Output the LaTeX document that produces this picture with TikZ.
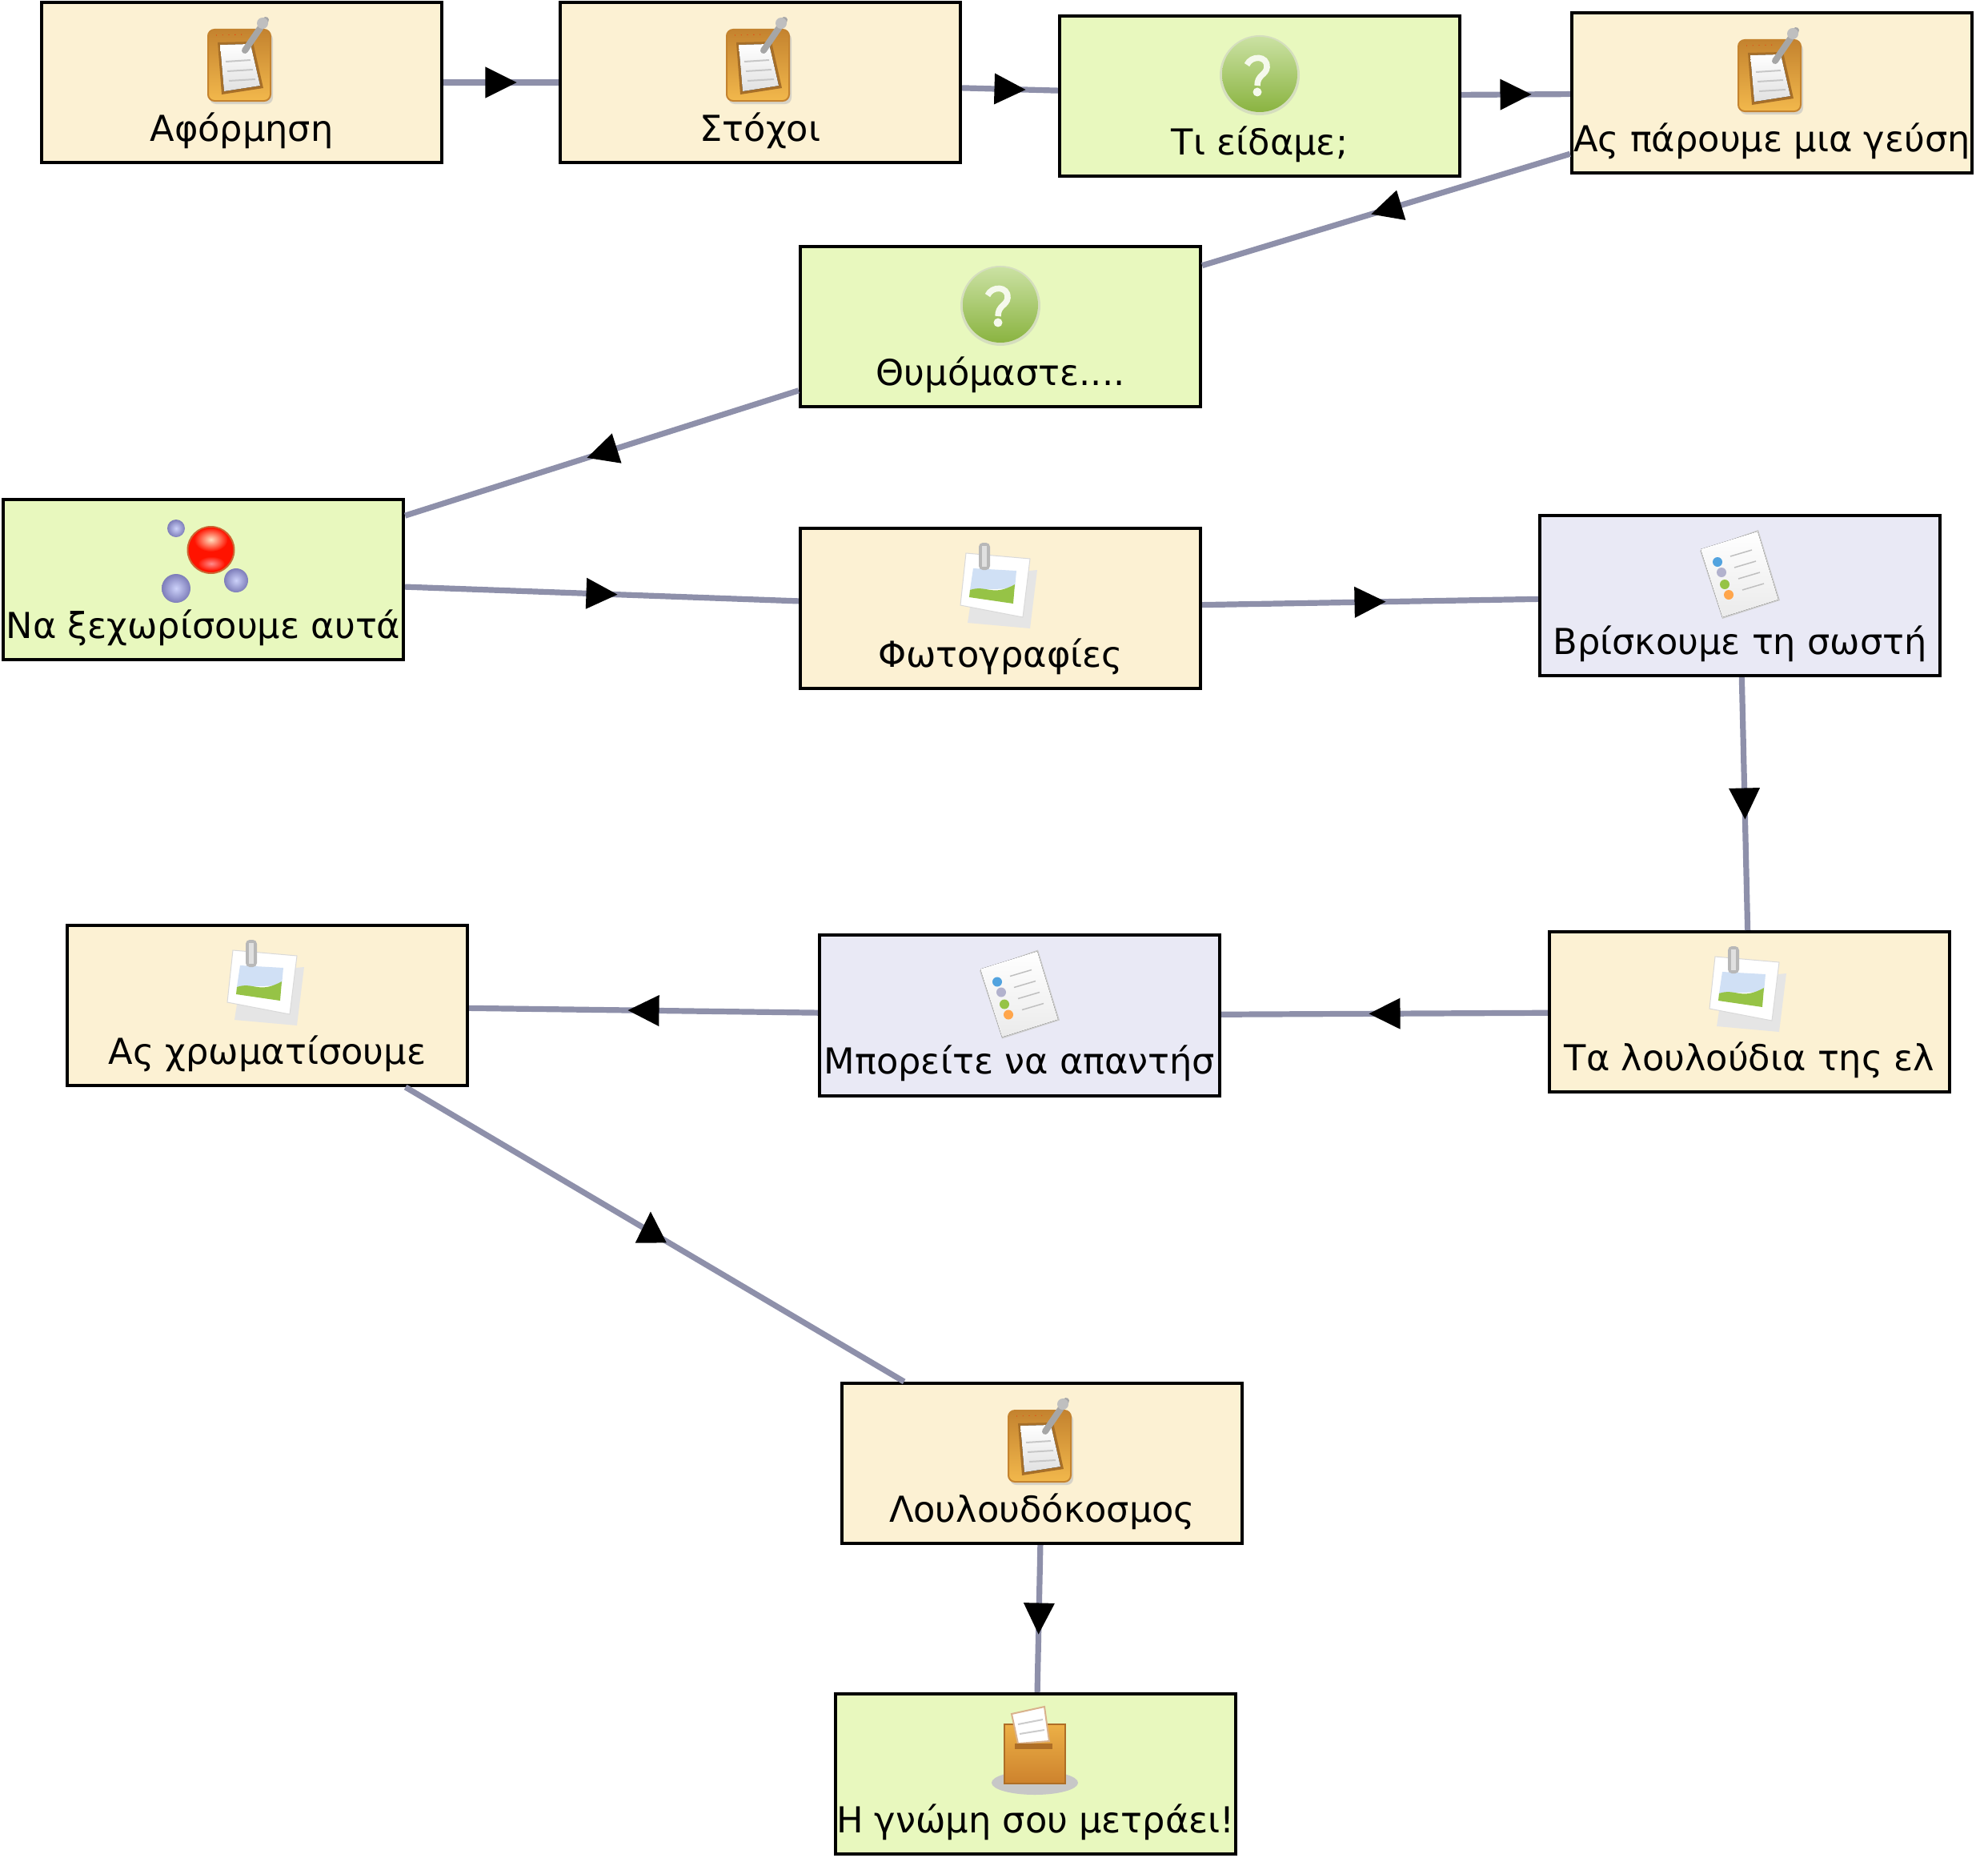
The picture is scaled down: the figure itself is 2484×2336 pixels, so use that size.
\documentclass[tikz,border=0pt]{standalone}
\usepackage{fontspec}
\setmainfont{DejaVu Sans}
\definecolor{boxbeige}{RGB}{252,241,211}
\definecolor{boxgreen}{RGB}{232,248,190}
\definecolor{boxlilac}{RGB}{233,233,245}
\definecolor{flowgrey}{RGB}{142,144,170}
\definecolor{boardtop}{RGB}{196,131,47}
\definecolor{boardlow}{RGB}{242,184,76}
\definecolor{cratetop}{RGB}{236,176,70}
\definecolor{cratelow}{RGB}{205,130,45}
\definecolor{leaf}{RGB}{150,195,70}
\definecolor{sky}{RGB}{208,224,245}
\definecolor{bluedrop}{RGB}{125,125,185}
\definecolor{paledrop}{RGB}{205,210,250}
\usetikzlibrary{arrows.meta, decorations.markings, shapes.geometric}

\begin{document}
\begin{tikzpicture}[
    x=0.01cm, y=-0.01cm,
    box/.style={draw, line width=0.04cm, minimum width=5cm, minimum height=2cm, inner sep=0pt,
        text height=1.73cm, text depth=0.27cm, font=\fontsize{12.7}{15}\selectfont},
    note/.style={box, fill=boxbeige},
    ask/.style={box, fill=boxgreen},
    task/.style={box, fill=boxlilac},
    flow/.style={draw=flowgrey, line width=0.072cm, postaction={decorate}, decoration={markings,
        mark=at position 0.5 with {\arrow[black, #1, xshift=0.195cm]{Triangle[length=0.39cm, width=0.39cm, line width=0pt]}}}},
    flow/.default={},
    clipicon/.pic={
        \fill[black!25, opacity=0.6, rounded corners=0.08cm] (-40,-62) rectangle (39,27);
        \draw[draw=boardtop, line width=0.02cm, top color=boardtop, bottom color=boardlow, rounded corners=0.08cm] (-42,-66) rectangle (36,23);
        \draw[red!80!orange, line width=0.008cm, dotted] (-32,-59) -- (5,-60);
        \fill[boardtop!85!black] (-30,-50) -- (14,-51) -- (27,7) -- (-25,15) -- cycle;
        \fill[top color=white, bottom color=black!12] (-27,-47) -- (11,-48) -- (23,4) -- (-22,11) -- cycle;
        \draw[black!22, line width=0.02cm] (-20,-26) -- (11,-28) (-18,-14) -- (14,-16) (-16,-2) -- (17,-4);
        \draw[black!35, line width=0.08cm, line cap=round] (4,-40) -- (30,-78);
        \fill[black!25] (26,-74) circle[radius=7];
    },
    askicon/.pic={
        \fill[black!25, opacity=0.45] (0,1) circle[radius=50];
        \shade[top color=leaf!50!white, middle color=leaf!75!white, bottom color=leaf!92!black] (0,0) circle[radius=47];
        \draw[white!90!leaf, line width=0.075cm] (-16,-12) .. controls (-11,-24) and (10,-24) .. (9,-9) .. controls (8,1) and (-3,0) .. (-3,14);
        \fill[white!90!leaf] (-3,22) circle[radius=5.5];
    },
    ballicon/.pic={
        \fill[red!85!orange, draw=brown!80!red, line width=0.02cm] (9.5,-37) circle[radius=29];
        \shade[inner color=orange!25!white, outer color=red!85!orange] (9.5,-50) ellipse[x radius=21, y radius=15];
        \shade[inner color=red!45!white, outer color=red!85!orange] (10,-20) ellipse[x radius=17, y radius=9];
        \foreach \px/\py/\pr in {-34/-64/11, -34/11/18, 41/1/15}
            \shade[inner color=paledrop, outer color=bluedrop] (\px,\py) circle[radius=\pr];
    },
    fotoicon/.pic={
        \fill[black!10] (-32,-40) -- (46,-48) -- (37,25) -- (-41,18) -- cycle;
        \fill[white, draw=black!15, line width=0.01cm] (-43,-69) -- (37,-62) -- (28,11) -- (-50,-4) -- cycle;
        \fill[sky] (-34,-50) -- (20,-47) -- (18,-25) -- (-38,-23) -- cycle;
        \fill[leaf] (-38,-23) .. controls (-18,-30) and (-10,-14) .. (18,-30) -- (16,-6) -- (-39,-14) -- cycle;
        \fill[black!28, rounded corners=0.05cm] (-27,-82) rectangle (-13,-48);
        \fill[black!12] (-23,-78) rectangle (-17,-52);
    },
    listicon/.pic={
        \fill[black!20] (-50,-56) -- (23,-82) -- (50,6) -- (-22,29) -- cycle;
        \fill[top color=white, bottom color=black!8] (-49,-58) -- (22,-80) -- (48,5) -- (-22,27) -- cycle;
        \fill[cyan!70!blue!70] (-28,-42) circle[radius=6];
        \fill[blue!35!black!30] (-23,-29) circle[radius=6];
        \fill[leaf] (-19,-14) circle[radius=6];
        \fill[orange!70] (-14,-1) circle[radius=6];
        \foreach \k in {0,1,2,3}
            \draw[black!25, line width=0.015cm] (-12+5*\k,-49+14*\k) -- (15+5*\k,-57+14*\k);
    },
    boxicon/.pic={
        \fill[black!22] (-1,11) ellipse[x radius=54, y radius=15];
        \draw[draw=cratelow!85!black, line width=0.025cm, top color=cratetop, bottom color=cratelow] (-39,-62) rectangle (37,12);
        \draw[brown!60, line width=0.02cm, fill=white] (-30,-75) -- (11,-84) -- (17,-41) -- (-22,-38) -- cycle;
        \draw[black!20, line width=0.02cm] (-22,-62) -- (9,-68) (-20,-50) -- (11,-55);
        \fill[cratelow!85!black] (-26,-38) rectangle (21,-31);
    }
]
    \useasboundingbox (0,0) rectangle (2484,2336);

    \node[note] (aform) at (302, 103) {Αφόρμηση};
    \node[note] (stoxoi) at (950, 103) {Στόχοι};
    \node[ask] (eidame) at (1574, 120) {Τι είδαμε;};
    \node[note] (geusi) at (2214, 116) {Ας πάρουμε μια γεύση};
    \node[ask] (thym) at (1250, 408) {Θυμόμαστε....};
    \node[ask] (xexor) at (254, 724) {Να ξεχωρίσουμε αυτά};
    \node[note] (foto) at (1250, 760) {Φωτογραφίες};
    \node[task] (sosti) at (2174, 744) {Βρίσκουμε τη σωστή};
    \node[note] (lould) at (2186, 1264) {Τα λουλούδια της ελ};
    \node[task] (apant) at (1274, 1268.5) {Μπορείτε να απαντήσ};
    \node[note] (xrom) at (334, 1256) {Ας χρωματίσουμε};
    \node[note] (kosmos) at (1302, 1828) {Λουλουδόκοσμος};
    \node[ask] (gnomi) at (1294, 2216) {Η γνώμη σου μετράει!};

    % icons over the boxes
    \pic at (aform) {clipicon};
    \pic at (stoxoi) {clipicon};
    \pic at (geusi) {clipicon};
    \pic at (kosmos) {clipicon};
    \pic at ([yshift=0.27cm]eidame) {askicon};
    \pic at ([yshift=0.27cm]thym) {askicon};
    \pic at (xexor) {ballicon};
    \pic at (foto) {fotoicon};
    \pic at (lould) {fotoicon};
    \pic at (xrom) {fotoicon};
    \pic at (sosti) {listicon};
    \pic at (apant) {listicon};
    \pic at (gnomi) {boxicon};

    \draw[flow] (aform) -- (stoxoi);
    \draw[flow] (stoxoi) -- (eidame);
    \draw[flow] (eidame) -- (geusi);
    \draw[flow] (geusi) -- (thym);
    \draw[flow] (thym) -- (xexor);
    \draw[flow] (xexor) -- (foto);
    \draw[flow] (foto) -- (sosti);
    \draw[flow] (sosti) -- (lould);
    \draw[flow] (lould) -- (apant);
    \draw[flow] (apant) -- (xrom);
    \draw[flow={rotate=121, xshift=0.09cm, yshift=0.05cm}] (xrom) -- (kosmos);
    \draw[flow] (kosmos) -- (gnomi);
\end{tikzpicture}
\end{document}
